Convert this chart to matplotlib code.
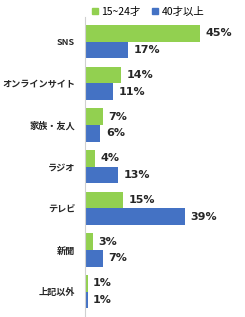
import matplotlib.pyplot as plt
from matplotlib.patches import Patch

plt.rcParams['font.family'] = ['Noto Sans CJK JP', 'DejaVu Sans']

categories = ["SNS", "オンラインサイト", "家族・友人", "ラジオ", "テレビ", "新聞", "上記以外"]
young = [45, 14, 7, 4, 15, 3, 1]
older = [17, 11, 6, 13, 39, 7, 1]
series_names = ["15~24才", "40才以上"]

GREEN = "#92D050"
BLUE = "#4472C4"

W, H = 245, 317
fig = plt.figure(figsize=(W / 100, H / 100), dpi=100)
ax = fig.add_axes([85 / W, 1 / H, (W - 85) / W, 299 / H])

pos = list(range(len(categories)))
h = 0.4
ax.barh([p - h / 2 for p in pos], young, height=h, color=GREEN)
ax.barh([p + h / 2 for p in pos], older, height=h, color=BLUE)

for p, v in zip(pos, young):
    ax.annotate(f"{v}%", (v, p - h / 2), xytext=(4, 0), textcoords="offset points",
                va="center", ha="left", fontsize=8, fontweight="bold", color="#262626",
                family="DejaVu Sans")
for p, v in zip(pos, older):
    ax.annotate(f"{v}%", (v, p + h / 2), xytext=(4, 0), textcoords="offset points",
                va="center", ha="left", fontsize=8, fontweight="bold", color="#262626",
                family="DejaVu Sans")

ax.set_xlim(0, 62.6)
ax.set_ylim(6.58, -0.59)
ax.set_yticks(pos)
ax.set_yticklabels(categories, fontsize=6.6, fontweight="bold", color="#262626")
ax.tick_params(axis="y", length=0, pad=7)
ax.set_xticks([])
for s in ["top", "right", "bottom"]:
    ax.spines[s].set_visible(False)
ax.spines["left"].set_color("#d0d0d0")

handles = [Patch(color=GREEN), Patch(color=BLUE)]
fig.legend(handles, series_names, loc="center", bbox_to_anchor=(148 / W, 1 - 12 / H),
           ncol=2, frameon=False, fontsize=7.5, handlelength=0.55, handleheight=0.55,
           handletextpad=0.35, columnspacing=1.1)

fig.savefig("out.png", dpi=100)
